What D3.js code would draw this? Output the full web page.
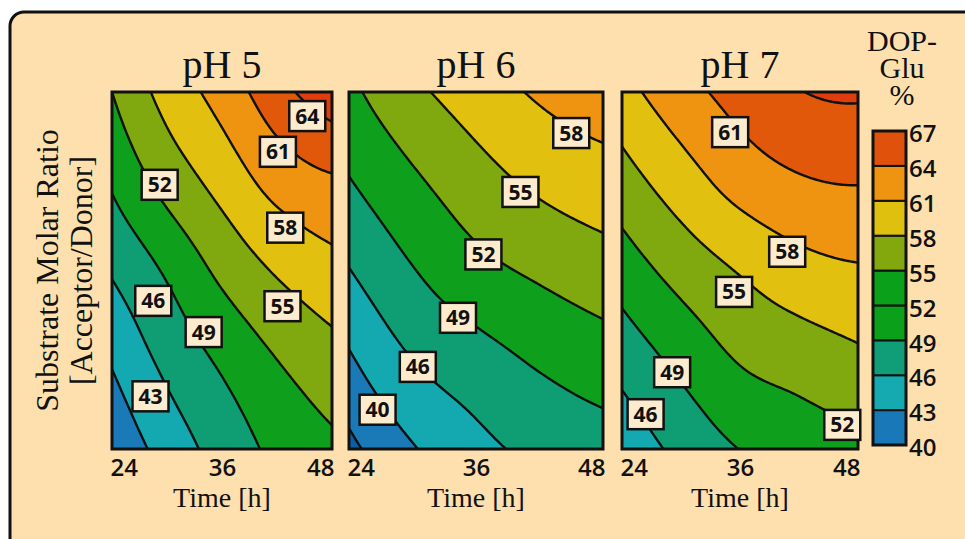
<!DOCTYPE html>
<title>DOP-Glu</title>
<meta charset="utf-8">
<style>
body{margin:0;background:#fff;}
.serif{font-family:"Liberation Serif","Times New Roman",serif;fill:#111;}
.num{font-family:"Open Sans",sans-serif;font-weight:600;fill:#111;}
.lines path{fill:none;stroke:#111;stroke-width:2.4px;stroke-linejoin:round;}
</style>
<body>
<script src="https://cdn.jsdelivr.net/npm/d3@7"></script>
<script>

// grid: rows = ratio levels (bottom -> top), cols = time levels
var times  = [24, 30, 36, 42, 48];
var ratios = [1, 2, 3, 4, 5];
var titles = ["pH 5", "pH 6", "pH 7"];
var timeTicks = [24, 36, 48];
var levels = [40, 43, 46, 49, 52, 55, 58, 61, 64, 67];

var ph5 = [
 [40.6, 44.2, 47.2, 49.7, 51.4],
 [43.3, 46.8, 49.5, 52.0, 53.9],
 [46.3, 49.4, 52.7, 55.3, 57.05],
 [49.4, 53.1, 56.1, 59.1, 60.6],
 [52.0, 56.1, 59.2, 62.9, 66.0]
];
var ph6 = [
 [39.2, 42.75, 45.2, 46.7, 47.7],
 [42.6, 46.0, 47.8, 49.4, 50.6],
 [45.9, 48.85, 51.1, 52.5, 53.7],
 [48.85, 51.5, 53.8, 55.6, 56.75],
 [51.3, 54.3, 56.5, 58.4, 59.6]
];
var ph7 = [
 [43.9, 46.8, 49.05, 50.3, 51.2],
 [47.1, 49.8, 52.2, 53.3, 54.4],
 [50.4, 53.1, 55.2, 56.9, 57.7],
 [53.75, 56.6, 59.2, 60.7, 61.15],
 [56.9, 59.9, 62.1, 63.9, 64.4]
];

// contour labels: [time, ratio, level]
var labels5 = [[45.3,4.73,64],[42.1,4.33,61],[42.9,3.48,58],[42.6,2.6,55],[29.2,3.96,52],[28.5,2.66,46],[34.0,2.31,49],[28.2,1.59,43]];
var labels6 = [[45.0,4.54,58],[40.2,3.88,55],[36.7,3.18,52],[34.3,2.47,49],[30.5,1.92,46],[26.7,1.44,40]];
var labels7 = [[35.0,4.55,61],[40.8,3.21,58],[35.4,2.76,55],[29.1,1.86,49],[26.4,1.39,46],[46.4,1.27,52]];

var grids = [ph5, ph6, ph7];
var labelSets = [labels5, labels6, labels7];

// fill colours: below 40, then one per band
var bandColors = ["#0b5fa6","#1a7ab8","#14a9b0","#0f9e74","#0ea01c","#80a90f","#e2c00f","#ee9411","#e2580b","#df3d0e"];
// colour bar as drawn in the figure (40-43 ... 64-67)
var legendColors = ["#1878b8","#14aab0","#109e78","#0aa01a","#0aa01a","#82a80e","#e0c00e","#ee9410","#e0520c"];

var W = 965, H = 539;
var panelX = [[112,332],[349,603],[622,858]];
var yTop = 92, yBot = 449;

var svg = d3.select("body").append("svg").attr("width", W).attr("height", H);

svg.append("rect").attr("x",10).attr("y",12).attr("width",990).attr("height",600)
	.attr("rx",14).attr("fill","#fde0ae").attr("stroke","#111").attr("stroke-width",3);

var color = d3.scaleThreshold().domain(levels).range(bandColors);

// Catmull-Rom upsampling of the read grid, only to draw smooth lines
function cr(p0,p1,p2,p3,t){
	return 0.5*((2*p1)+(-p0+p2)*t+(2*p0-5*p1+4*p2-p3)*t*t+(-p0+3*p1-3*p2+p3)*t*t*t);
}
function interp(arr, s){
	var n = arr.length;
	var get = function(k){
		if(k<0) return 3*arr[0]-3*arr[1]+arr[2];
		if(k>n-1) return 3*arr[n-1]-3*arr[n-2]+arr[n-3];
		return arr[k];
	};
	var i = Math.min(Math.floor(s), n-2), t = s-i;
	return cr(get(i-1),get(i),get(i+1),get(i+2),t);
}
var N = 121;
function upsample(grid){
	var out = new Array(N*N);
	for(var j=0;j<N;j++){
		var sy = (1 - j/(N-1))*(ratios.length-1);
		for(var i=0;i<N;i++){
			var sx = i/(N-1)*(times.length-1);
			var col = grid.map(function(row){ return interp(row, sx); });
			out[j*N+i] = interp(col, sy);
		}
	}
	return out;
}

var defs = svg.append("defs");

grids.forEach(function(grid, k){
	var x0 = panelX[k][0], x1 = panelX[k][1];
	var x = d3.scaleLinear().domain([times[0], times[times.length-1]]).range([x0, x1]);
	var y = d3.scaleLinear().domain([ratios[0], ratios[ratios.length-1]]).range([yBot, yTop]);
	var gt = d3.scaleLinear().domain([0.5, N-0.5]).range(x.domain());
	var gr = d3.scaleLinear().domain([0.5, N-0.5]).range([ratios[ratios.length-1], ratios[0]]);
	var path = d3.geoPath(d3.geoTransform({point:function(px,py){ this.stream.point(x(gt(px)), y(gr(py))); }}));

	defs.append("clipPath").attr("id","clip"+k).append("rect")
		.attr("x",x0).attr("y",yTop).attr("width",x1-x0).attr("height",yBot-yTop);

	var values = upsample(grid);
	var conts = d3.contours().size([N,N]).thresholds(levels)(values);

	var g = svg.append("g").attr("clip-path","url(#clip"+k+")");
	g.append("rect").attr("x",x0).attr("y",yTop).attr("width",x1-x0).attr("height",yBot-yTop)
		.attr("fill",bandColors[0]);
	g.selectAll(".band").data(conts).join("path").attr("class","band")
		.attr("d",path).attr("fill",d=>color(d.value));
	g.append("g").attr("class","lines").selectAll("path").data(conts).join("path").attr("d",path);

	svg.append("rect").attr("x",x0).attr("y",yTop).attr("width",x1-x0).attr("height",yBot-yTop)
		.attr("fill","none").attr("stroke","#111").attr("stroke-width",3);

	var lab = svg.append("g").selectAll("g").data(labelSets[k]).join("g")
		.attr("transform",d=>"translate("+x(d[0])+","+y(d[1])+")");
	lab.append("rect").attr("x",-18).attr("y",-15).attr("width",36).attr("height",30)
		.attr("fill","#fcebcd").attr("stroke","#111").attr("stroke-width",2.5);
	lab.append("text").attr("class","num").attr("text-anchor","middle").attr("dy","0.36em")
		.style("font-size","21px").style("font-weight",700).text(d=>d[2]);

	svg.append("text").attr("class","serif").attr("x",(x0+x1)/2).attr("y",78)
		.attr("text-anchor","middle").style("font-size","40px").text(titles[k]);

	var ax = svg.append("g").attr("transform","translate(0,"+(yBot+4)+")")
		.call(d3.axisBottom(x).tickValues(timeTicks).tickSize(0).tickPadding(6));
	ax.select(".domain").remove();
	ax.selectAll("text").attr("class","num").style("font-size","24px")
		.attr("text-anchor",(d,i)=> i==0 ? "start" : (i==timeTicks.length-1 ? "end" : "middle"))
		.attr("dx",(d,i)=> i==0 ? "-2" : (i==timeTicks.length-1 ? "2" : "0"));

	svg.append("text").attr("class","serif").attr("x",(x0+x1)/2).attr("y",507)
		.attr("text-anchor","middle").style("font-size","28px").text("Time [h]");
});

// y title
var yt = svg.append("text").attr("class","serif").style("font-size","32px")
	.attr("text-anchor","middle").attr("transform","translate(47,"+((yTop+yBot)/2)+") rotate(-90)");
yt.append("tspan").attr("x",0).attr("dy","0.35em").text("Substrate Molar Ratio");
yt.append("tspan").attr("x",0).attr("dy","1.06em").text("[Acceptor/Donor]");

// colour bar
var ly = d3.scaleLinear().domain([levels[0], levels[levels.length-1]]).range([445,131]);
var bins = d3.pairs(levels);
svg.append("g").selectAll("rect").data(bins).join("rect")
	.attr("x",873).attr("width",33)
	.attr("y",d=>ly(d[1])).attr("height",d=>ly(d[0])-ly(d[1]))
	.attr("fill",(d,i)=>legendColors[i]).attr("stroke","#111").attr("stroke-width",2);
svg.append("rect").attr("x",873).attr("y",ly(levels[levels.length-1])).attr("width",33)
	.attr("height",ly(levels[0])-ly(levels[levels.length-1]))
	.attr("fill","none").attr("stroke","#111").attr("stroke-width",3);
var la = svg.append("g").attr("transform","translate(906,3)")
	.call(d3.axisRight(ly).tickValues(levels).tickSize(0).tickPadding(3));
la.select(".domain").remove();
la.selectAll("text").attr("class","num").style("font-size","24px");

var lt = svg.append("text").attr("class","serif").attr("text-anchor","middle").style("font-size","30px");
["DOP-","Glu","%"].forEach(function(s,i){
	lt.append("tspan").attr("x",902).attr("y",51+i*27).text(s);
});

</script>
</body>
</html>
